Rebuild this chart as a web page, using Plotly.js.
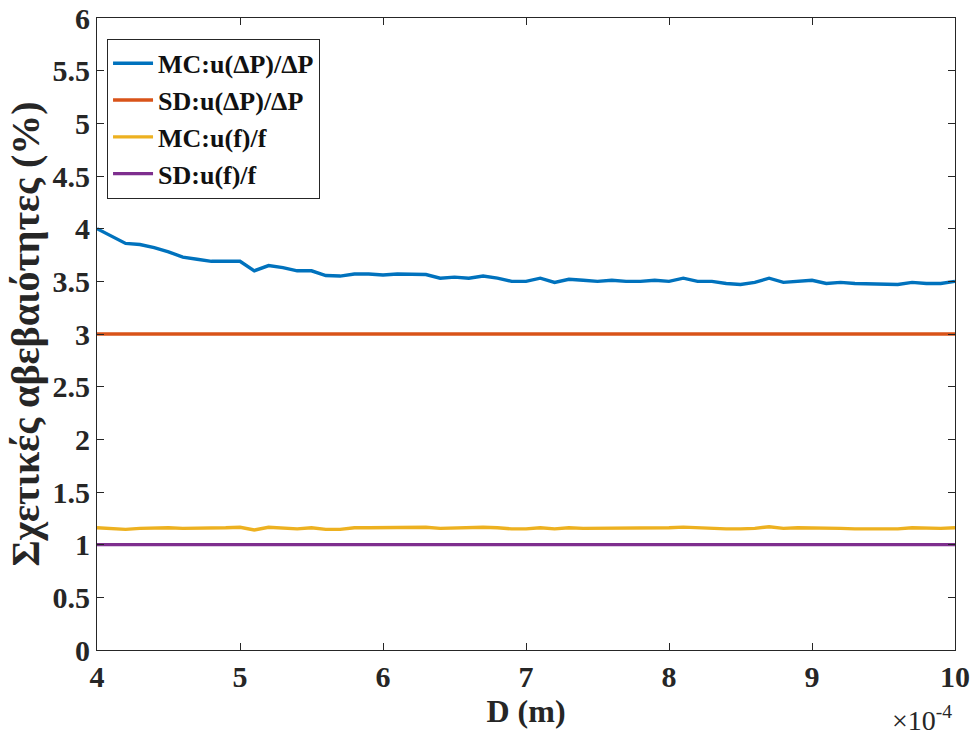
<!DOCTYPE html>
<html>
<head>
<meta charset="utf-8">
<script src="https://cdn.plot.ly/plotly-3.0.1.min.js"></script>
<style>html,body{margin:0;padding:0;background:#fff;}#chart{width:973px;height:738px;}</style>
</head>
<body>
<div id="chart"></div>
<script>
// D values in units of 1e-4 m
const D = [4.0,4.1,4.2,4.3,4.4,4.5,4.6,4.7,4.8,4.9,
           5.0,5.1,5.2,5.3,5.4,5.5,5.6,5.7,5.8,5.9,
           6.0,6.1,6.2,6.3,6.4,6.5,6.6,6.7,6.8,6.9,
           7.0,7.1,7.2,7.3,7.4,7.5,7.6,7.7,7.8,7.9,
           8.0,8.1,8.2,8.3,8.4,8.5,8.6,8.7,8.8,8.9,
           9.0,9.1,9.2,9.3,9.4,9.5,9.6,9.7,9.8,9.9,10.0];
const mcDP = [4.00,3.93,3.86,3.85,3.82,3.78,3.73,3.71,3.69,3.69,
              3.69,3.60,3.65,3.63,3.60,3.60,3.555,3.55,3.57,3.57,
              3.56,3.57,3.565,3.565,3.53,3.54,3.53,3.55,3.53,3.50,
              3.50,3.53,3.49,3.52,3.51,3.50,3.51,3.50,3.50,3.51,
              3.50,3.53,3.50,3.50,3.48,3.47,3.49,3.53,3.49,3.50,
              3.51,3.48,3.49,3.48,3.475,3.47,3.47,3.49,3.48,3.48,3.50];
const sdDP = [3,3];
const mcF = [1.16,1.15,1.145,1.155,1.16,1.16,1.155,1.155,1.16,1.16,
             1.165,1.14,1.165,1.16,1.15,1.16,1.145,1.145,1.16,1.16,
             1.16,1.16,1.165,1.165,1.155,1.16,1.16,1.165,1.16,1.15,
             1.15,1.16,1.15,1.16,1.155,1.155,1.155,1.155,1.16,1.16,
             1.16,1.167,1.16,1.155,1.15,1.15,1.155,1.17,1.155,1.16,
             1.16,1.155,1.155,1.15,1.15,1.15,1.15,1.16,1.155,1.155,1.16];
const sdF = [1,1];
const sdX = [4,10];
const names = ["MC:u(ΔP)/ΔP","SD:u(ΔP)/ΔP","MC:u(f)/f","SD:u(f)/f"];
const colors = ["#0072BD","#D95319","#EDB120","#7E2F8E"];
const xTicks = [4,5,6,7,8,9,10];
const yTicks = [0,0.5,1,1.5,2,2.5,3,3.5,4,4.5,5,5.5,6];

const traces = [
  {x:D, y:mcDP, name:names[0], mode:'lines', line:{color:colors[0], width:3.4}},
  {x:sdX, y:sdDP, name:names[1], mode:'lines', line:{color:colors[1], width:3.4}},
  {x:D, y:mcF, name:names[2], mode:'lines', line:{color:colors[2], width:3.4}},
  {x:sdX, y:sdF, name:names[3], mode:'lines', line:{color:colors[3], width:3.4}}
];
const fam = '"Liberation Serif", "Times New Roman", serif';
const axisCommon = {
  showgrid:false, zeroline:false, showline:true, mirror:'ticks',
  linecolor:'#262626', linewidth:1, ticks:'inside', ticklen:7, tickcolor:'#262626',
  tickfont:{family:fam, size:30, color:'#262626', weight:'bold'}
};
const layout = {
  width:973, height:738,
  margin:{l:97, r:18, t:18, b:88},
  paper_bgcolor:'#fff', plot_bgcolor:'#fff',
  font:{family:fam, color:'#262626'},
  showlegend:true,
  legend:{x:0.0117, y:0.967, xanchor:'left', yanchor:'top', bgcolor:'#fff',
          bordercolor:'#262626', borderwidth:1,
          font:{family:fam, size:26, color:'#111', weight:'bold'},
          tracegroupgap:0, itemwidth:40},
  xaxis:Object.assign({}, axisCommon, {
    range:[4,10], tickvals:xTicks, ticktext:xTicks.map(String),
    title:{text:'D (m)', font:{family:fam, size:32, color:'#262626', weight:'bold'}, standoff:7}
  }),
  yaxis:Object.assign({}, axisCommon, {
    range:[0,6], tickvals:yTicks, ticktext:yTicks.map(String),
    title:{text:'Σχετικές αβεβαιότητες (%)', font:{family:fam, size:40, color:'#262626', weight:'bold'}, standoff:0}
  }),
  annotations:[{
    xref:'paper', yref:'paper', x:0.999, y:-0.139, xanchor:'right', yanchor:'bottom',
    text:'×10<sup>-4</sup>', showarrow:false,
    font:{family:fam, size:28, color:'#262626'}
  }]
};
Plotly.newPlot('chart', traces, layout, {displayModeBar:false, staticPlot:true});
</script>
</body>
</html>
